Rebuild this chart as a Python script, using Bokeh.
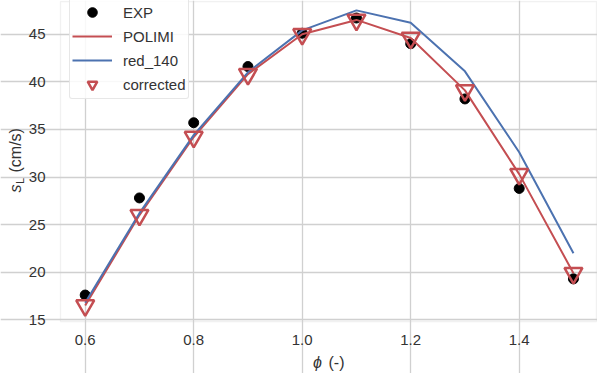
import math
from bokeh.plotting import figure
from bokeh.models import (ColumnDataSource, FixedTicker, PrintfTickFormatter,
                          Legend, LegendItem, Label, Range1d, BoxAnnotation)
from bokeh.embed import file_html
from bokeh.resources import INLINE

# ---- data ----
phi = [0.6, 0.7, 0.8, 0.9, 1.0, 1.1, 1.2, 1.3, 1.4, 1.5]
exp_sl = [17.6, 27.8, 35.7, 41.6, 45.1, 46.7, 44.0, 38.2, 28.8, 19.3]
polimi_sl = [16.5, 26.0, 34.2, 40.8, 45.0, 46.5, 44.6, 39.1, 30.3, 19.9]
red140_sl = [16.8, 26.2, 34.4, 41.0, 45.4, 47.5, 46.2, 41.1, 32.6, 22.0]
corrected_sl = [16.5, 26.0, 34.2, 40.8, 45.0, 46.5, 44.6, 39.1, 30.3, 19.9]
x_ticks = [0.6, 0.8, 1.0, 1.2, 1.4]
y_ticks = [15, 20, 25, 30, 35, 40, 45]

RED = "#C44E52"
BLUE = "#4C72B0"
GRID = "#d0d0d0"
TXT = "#333333"
FONT = "Liberation Sans"


# window-pixel -> data helpers (0.2 in phi = 108.5 px, 5 cm/s = 47.6 px)
def xd(px):
    return 0.6 + (px - 92.7) / 542.5


def yd(py):
    return 15 + (327.3 - py) / 9.52


# axes box (data units)
BX0, BX1 = xd(68), xd(604)
BY0, BY1 = yd(329), yd(9)

src = ColumnDataSource(dict(phi=phi, exp=exp_sl, polimi=polimi_sl,
                            red140=red140_sl, corr=corrected_sl))

p = figure(width=597, height=373, output_backend="svg", toolbar_location=None,
           x_range=Range1d(xd(8), xd(605)), y_range=Range1d(yd(381), yd(8)),
           min_border=0)
p.background_fill_color = "white"
p.border_fill_color = "white"
p.outline_line_color = None

p.xaxis.fixed_location = BY0
p.yaxis.fixed_location = BX0
for ax in (p.xaxis[0], p.yaxis[0]):
    ax.axis_line_color = None
    ax.major_tick_line_color = None
    ax.minor_tick_line_color = None
    ax.major_tick_out = 0
    ax.major_tick_in = 0
    ax.minor_tick_out = 0
    ax.minor_tick_in = 0
    ax.major_label_text_font = FONT
    ax.major_label_text_font_size = "15px"
    ax.major_label_text_color = TXT

p.xaxis.ticker = FixedTicker(ticks=x_ticks)
p.xaxis.formatter = PrintfTickFormatter(format="%.1f")
p.xaxis.major_label_standoff = 13
p.yaxis.ticker = FixedTicker(ticks=y_ticks)
p.yaxis.formatter = PrintfTickFormatter(format="%d")
p.yaxis.major_label_standoff = 15

p.xgrid.grid_line_color = GRID
p.ygrid.grid_line_color = GRID
p.xgrid.grid_line_width = 1.3
p.ygrid.grid_line_width = 1.3
p.xgrid.bounds = (BY0, BY1)
p.ygrid.bounds = (BX0, BX1)

p.add_layout(BoxAnnotation(left=BX0, right=BX1, bottom=BY0, top=BY1,
                           fill_color=None, line_color=GRID, line_width=1.3,
                           level="underlay"))

r_exp = p.scatter("phi", "exp", source=src, marker="circle", size=10,
                  fill_color="black", line_color="black")
r_pol = p.line("phi", "polimi", source=src, line_color=RED, line_width=2)
r_red = p.line("phi", "red140", source=src, line_color=BLUE, line_width=2)
r_cor = p.scatter("phi", "corr", source=src, marker="inverted_triangle", size=18,
                  fill_color=None, line_color=RED, line_width=2.5)

legend = Legend(items=[
    LegendItem(label="EXP", renderers=[r_exp]),
    LegendItem(label="POLIMI", renderers=[r_pol]),
    LegendItem(label="red_140", renderers=[r_red]),
    LegendItem(label="corrected", renderers=[r_cor]),
], location=(69, 274))
legend.label_text_font = FONT
legend.label_text_font_size = "15px"
legend.label_text_color = TXT
legend.glyph_width = 40
legend.glyph_height = 24
legend.label_height = 20
legend.label_standoff = 11
legend.spacing = -1
legend.padding = 2
legend.margin = 0
legend.border_line_color = GRID
legend.border_line_width = 1
legend.background_fill_color = "white"
legend.background_fill_alpha = 0.85
if "border_radius" in Legend.properties():
    legend.border_radius = 3
p.add_layout(legend)


def lab(px, py, text, size="16px", italic=False, angle=0.0):
    p.add_layout(Label(x=xd(px), y=yd(py), text=text, text_font=FONT,
                       text_font_style="italic" if italic else "normal",
                       text_font_size=size, text_color=TXT, angle=angle,
                       text_align="left", text_baseline="middle"))


# x-axis title: italic phi + "(-)"  (anchors are text centre lines)
lab(320.5, 370, "ϕ", italic=True)
lab(336, 370, "(-)")

# y-axis title: italic s, subscript L, "(cm/s)"
ang = math.pi / 2
lab(22.5, 200, "s", italic=True, angle=ang)
lab(27.5, 191.5, "L", size="11px", angle=ang)
lab(22.5, 180, "(cm/s)", angle=ang)

open("out.html", "w").write(file_html(p, INLINE))
